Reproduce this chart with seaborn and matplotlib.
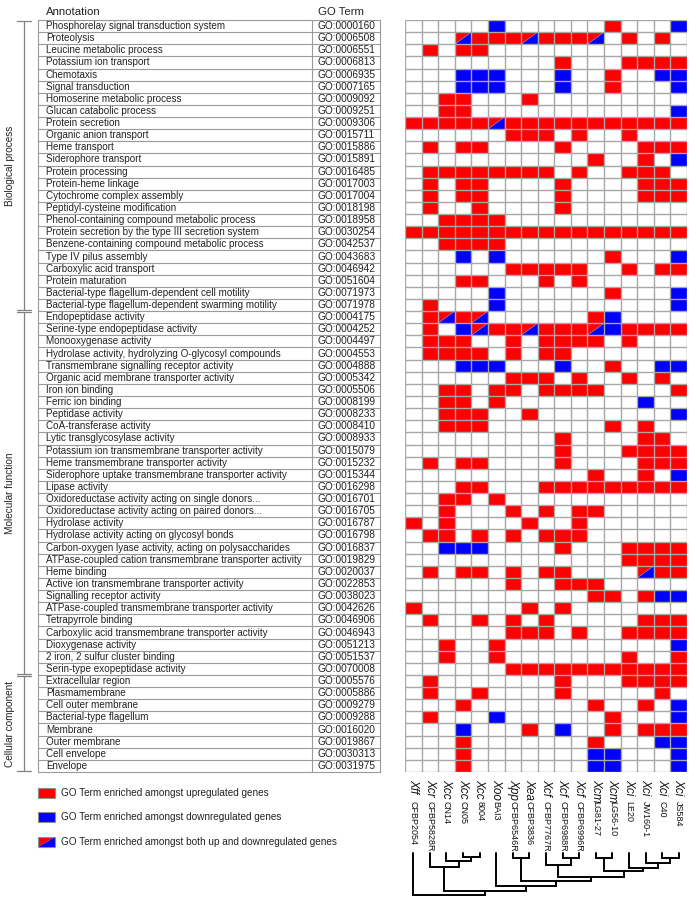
import numpy as np
import pandas as pd
import matplotlib
matplotlib.use('Agg')
import matplotlib.pyplot as plt
import matplotlib.transforms as mtransforms
from matplotlib.colors import ListedColormap
from matplotlib.patches import Polygon, Rectangle
import seaborn as sns

# GO annotations (rows) and terms
annotations = [
    'Phosphorelay signal transduction system', 'Proteolysis', 'Leucine metabolic process',
    'Potassium ion transport', 'Chemotaxis', 'Signal transduction', 'Homoserine metabolic process',
    'Glucan catabolic process', 'Protein secretion', 'Organic anion transport', 'Heme transport',
    'Siderophore transport', 'Protein processing', 'Protein-heme linkage', 'Cytochrome complex assembly',
    'Peptidyl-cysteine modification', 'Phenol-containing compound metabolic process',
    'Protein secretion by the type III secretion system', 'Benzene-containing compound metabolic process',
    'Type IV pilus assembly', 'Carboxylic acid transport', 'Protein maturation',
    'Bacterial-type flagellum-dependent cell motility', 'Bacterial-type flagellum-dependent swarming motility',
    'Endopeptidase activity', 'Serine-type endopeptidase activity', 'Monooxygenase activity',
    'Hydrolase activity, hydrolyzing O-glycosyl compounds', 'Transmembrane signalling receptor activity',
    'Organic acid membrane transporter activity', 'Iron ion binding', 'Ferric ion binding',
    'Peptidase activity', 'CoA-transferase activity', 'Lytic transglycosylase activity',
    'Potassium ion transmembrane transporter activity', 'Heme transmembrane transporter activity',
    'Siderophore uptake transmembrane transporter activity', 'Lipase activity',
    'Oxidoreductase activity acting on single donors...', 'Oxidoreductase activity acting on paired donors...',
    'Hydrolase activity', 'Hydrolase activity acting on glycosyl bonds',
    'Carbon-oxygen lyase activity, acting on polysaccharides',
    'ATPase-coupled cation transmembrane transporter activity', 'Heme binding',
    'Active ion transmembrane transporter activity', 'Signalling receptor activity',
    'ATPase-coupled transmembrane transporter activity', 'Tetrapyrrole binding',
    'Carboxylic acid transmembrane transporter activity', 'Dioxygenase activity',
    '2 iron, 2 sulfur cluster binding', 'Serin-type exopeptidase activity',
    'Extracellular region', 'Plasmamembrane', 'Cell outer membrane', 'Bacterial-type flagellum',
    'Membrane', 'Outer membrane', 'Cell envelope', 'Envelope',
]
go_terms = [
    'GO:0000160', 'GO:0006508', 'GO:0006551', 'GO:0006813', 'GO:0006935', 'GO:0007165',
    'GO:0009092', 'GO:0009251', 'GO:0009306', 'GO:0015711', 'GO:0015886', 'GO:0015891',
    'GO:0016485', 'GO:0017003', 'GO:0017004', 'GO:0018198', 'GO:0018958', 'GO:0030254',
    'GO:0042537', 'GO:0043683', 'GO:0046942', 'GO:0051604', 'GO:0071973', 'GO:0071978',
    'GO:0004175', 'GO:0004252', 'GO:0004497', 'GO:0004553', 'GO:0004888', 'GO:0005342',
    'GO:0005506', 'GO:0008199', 'GO:0008233', 'GO:0008410', 'GO:0008933', 'GO:0015079',
    'GO:0015232', 'GO:0015344', 'GO:0016298', 'GO:0016701', 'GO:0016705', 'GO:0016787',
    'GO:0016798', 'GO:0016837', 'GO:0019829', 'GO:0020037', 'GO:0022853', 'GO:0038023',
    'GO:0042626', 'GO:0046906', 'GO:0046943', 'GO:0051213', 'GO:0051537', 'GO:0070008',
    'GO:0005576', 'GO:0005886', 'GO:0009279', 'GO:0009288', 'GO:0016020', 'GO:0019867',
    'GO:0030313', 'GO:0031975',
]
categories = ['Biological process', 'Molecular function', 'Cellular component']
category_sizes = [24, 30, 8]

species = ['Xff', 'Xcr', 'Xcc', 'Xcc', 'Xcc', 'Xoo', 'Xpp', 'Xea', 'Xcf', 'Xcf', 'Xcf',
           'Xcm', 'Xcm', 'Xci', 'Xci', 'Xci', 'Xci']
strains = ['CFBP2054', 'CFBP5828R', 'CN14', 'CN05', '8004', 'BAI3', 'CFBP6546R', 'CFBP3836',
           'CFBP7767R', 'CFBP6988R', 'CFBP6996R', 'LG81-27', 'LG56-10', 'LE20', 'JW160-1',
           'C40', 'JS584']

# . = none, r = up, b = down, s = both
enrichment = [
    '.....b......r...b', '...srrrsrrrs.r.r.', '.r.rr............', '.........r...rrrr',
    '...bbb...b..r..bb', '...bbb...b..r...b', '..rr...r.........', '..rr............b',
    'rrrrrsrrrrrrrrrrr', '......rrr.r..r...', '.r.rr....r....rrr', '...........r..r.b',
    '.rrrrrrrr.r..rrr.', '.r.rr....r....rrr', '.r.rr....r....rrr', '.r..r....r.......',
    '..rrrr...........', 'rrrrrrrrrrrrrrrrr', '..rrrr...........', '...b.b......r...b',
    '......rrrrr..r.rr', '...rr...r.r......', '.....b......r...b', '.r...b..........b',
    '.rsrs......rb....', '.r.bsrrsrrrsbrrrr', '.rrr..r.rrrr.r...', '.rrrr.r.rr.......',
    '...bbb...b..r..bb', '......rrr.r..r.r.', '..rr.rr.rrrr....r', '..rr.r........b..',
    '..rrr..r........b', '..rrr.......r.r..', '.........r....rr.', '.........r...rrrr',
    '.r.rr....r....rrr', '...........r..r.b', '...rr...rrrrrrrrr', '..rr.r...........',
    '..r...r.r.rr.....', 'r.r....r..r......', '.rr.r.r.rrr......', '..bbb....r...rrrr',
    '.............rrrr', '.r.rr.r.rr....srr', '......r..rrr.....', '...........rr.rbb',
    'r......r.r.......', '.r..r.r.r.....rrr', '......rrr.r..rrrr', '..r..r..........b',
    '..r..r.......r..r', '......rrrrrrrrrrr', '.r.......r...rrrr', '.r..r....r.....r.',
    '...r.......r..r.b', '.r...b......r...b', '...b...r.b..r.rrr', '...r.......r...bb',
    '...r.......bb...b', '...r.......bb...b',
]

# dendrogram merges: (left node, right node, height); leaves are 0..16
merges = [(3, 4, 4), (2, 17, 8), (1, 18, 14), (6, 7, 5), (9, 10, 5), (8, 21, 12),
          (11, 12, 5), (15, 16, 5), (14, 24, 10), (13, 25, 15), (23, 26, 18),
          (22, 27, 24), (20, 28, 28), (5, 29, 33), (19, 30, 38), (0, 31, 42)]

RED = '#ff0000'
BLUE = '#0000ff'
GRID = '#a8a8a8'

code = {'.': 0, 'r': 1, 'b': 2, 's': 3}
mat = pd.DataFrame([[code[c] for c in row] for row in enrichment],
                   index=go_terms, columns=[f'{s} {t}' for s, t in zip(species, strains)])
n_rows, n_cols = mat.shape

sns.set_theme(style='white')
plt.rcParams['font.family'] = ['Liberation Sans', 'DejaVu Sans']

W, H = 696, 897
fig = plt.figure(figsize=(W / 100, H / 100), dpi=100)

# background axes in pixel units for the table, brackets and legend
bg = fig.add_axes([0, 0, 1, 1])
bg.set_xlim(0, W)
bg.set_ylim(H, 0)
bg.axis('off')

grid_left, grid_right, grid_top, grid_bottom = 405, 687, 20, 772
ax = fig.add_axes([grid_left / W, 1 - grid_bottom / H,
                   (grid_right - grid_left) / W, (grid_bottom - grid_top) / H])
cmap = ListedColormap(['white', RED, BLUE, RED])
sns.heatmap(mat, cmap=cmap, vmin=-0.5, vmax=3.5, cbar=False, linewidths=0,
            xticklabels=False, yticklabels=False, ax=ax)
ax.set_xlabel('')
ax.set_ylabel('')

# split cells: blue lower-right triangle
for i in range(n_rows):
    for j in range(n_cols):
        if mat.iat[i, j] == 3:
            ax.add_patch(Polygon([(j, i + 1), (j + 1, i), (j + 1, i + 1)],
                                 closed=True, facecolor=BLUE, edgecolor='none', zorder=2))
            ax.plot([j, j + 1], [i + 1, i], color='#9090c0', lw=0.5, zorder=2)

ax.hlines(np.arange(n_rows + 1), 0, n_cols, color=GRID, lw=1.0, zorder=3)
ax.vlines(np.arange(n_cols + 1), 0, n_rows, color=GRID, lw=1.0, zorder=3)
for s in ax.spines.values():
    s.set_visible(False)

# table on the left
row_h = (grid_bottom - grid_top) / n_rows
tab_l, tab_mid, tab_r = 38, 312, 380
bg.text(46, 12, 'Annotation', fontsize=8.2, va='center', ha='left', color='#222222')
bg.text(318, 12, 'GO Term', fontsize=8.2, va='center', ha='left', color='#222222')
for i, (a, g) in enumerate(zip(annotations, go_terms)):
    yc = grid_top + (i + 0.5) * row_h
    bg.text(46, yc, a, fontsize=7.1, va='center', ha='left', color='#222222')
    bg.text(318, yc, g, fontsize=7.3, va='center', ha='left', color='#222222')
for i in range(n_rows + 1):
    y = grid_top + i * row_h
    bg.plot([tab_l, tab_r], [y, y], color='#9a9a9a', lw=0.8)
for x in (tab_l, tab_mid, tab_r):
    bg.plot([x, x], [grid_top, grid_bottom], color='#9a9a9a', lw=0.8)

# category brackets
start = 0
for cat, size in zip(categories, category_sizes):
    y0 = grid_top + start * row_h + 1
    y1 = grid_top + (start + size) * row_h - 1
    bg.plot([24, 24], [y0, y1], color='#808080', lw=0.9)
    bg.plot([17, 31], [y0, y0], color='#808080', lw=0.9)
    bg.plot([17, 31], [y1, y1], color='#808080', lw=0.9)
    bg.text(10, (y0 + y1) / 2, cat, rotation=90, fontsize=7.2, va='center', ha='center',
            color='#222222')
    start += size

# column labels below the grid
trans = mtransforms.blended_transform_factory(ax.transData, bg.transData)
for j, (sp, st) in enumerate(zip(species, strains)):
    bg.text(j + 0.5, 779, sp, transform=trans, rotation=270, fontsize=8.5, style='italic',
            ha='center', va='top', color='#111111')
    bg.text(j + 0.5, 801, st, transform=trans, rotation=270, fontsize=6.5,
            ha='center', va='top', color='#111111')

# dendrogram
leaf_top = 853
pos = {k: (k + 0.5, 0) for k in range(n_cols)}
for k, (a, b, h) in enumerate(merges):
    xa, ha_ = pos[a]
    xb, hb = pos[b]
    bg.plot([xa, xa, xb, xb], [leaf_top + ha_, leaf_top + h, leaf_top + h, leaf_top + hb],
            transform=trans, color='black', lw=1.4, solid_joinstyle='miter')
    pos[n_cols + k] = ((xa + xb) / 2, h)

# legend
legend_items = [('up', 'GO Term enriched amongst upregulated genes', 793),
                ('down', 'GO Term enriched amongst downregulated genes', 817),
                ('both', 'GO Term enriched amongst both up and downregulated genes', 842)]
for kind, label, yc in legend_items:
    x0, x1, y0, y1 = 38, 55, yc - 5, yc + 5
    if kind == 'up':
        bg.add_patch(Rectangle((x0, y0), x1 - x0, y1 - y0, facecolor=RED, edgecolor='none'))
    elif kind == 'down':
        bg.add_patch(Rectangle((x0, y0), x1 - x0, y1 - y0, facecolor=BLUE, edgecolor='none'))
    else:
        bg.add_patch(Polygon([(x0, y0), (x1, y0), (x0, y1)], facecolor=RED, edgecolor='none'))
        bg.add_patch(Polygon([(x1, y0), (x1, y1), (x0, y1)], facecolor=BLUE, edgecolor='none'))
    bg.add_patch(Rectangle((x0, y0), x1 - x0, y1 - y0, facecolor='none', edgecolor='#909090', lw=0.8))
    bg.text(61, yc, label, fontsize=7.2, va='center', ha='left', color='#222222')

fig.savefig('out.png', dpi=100)
